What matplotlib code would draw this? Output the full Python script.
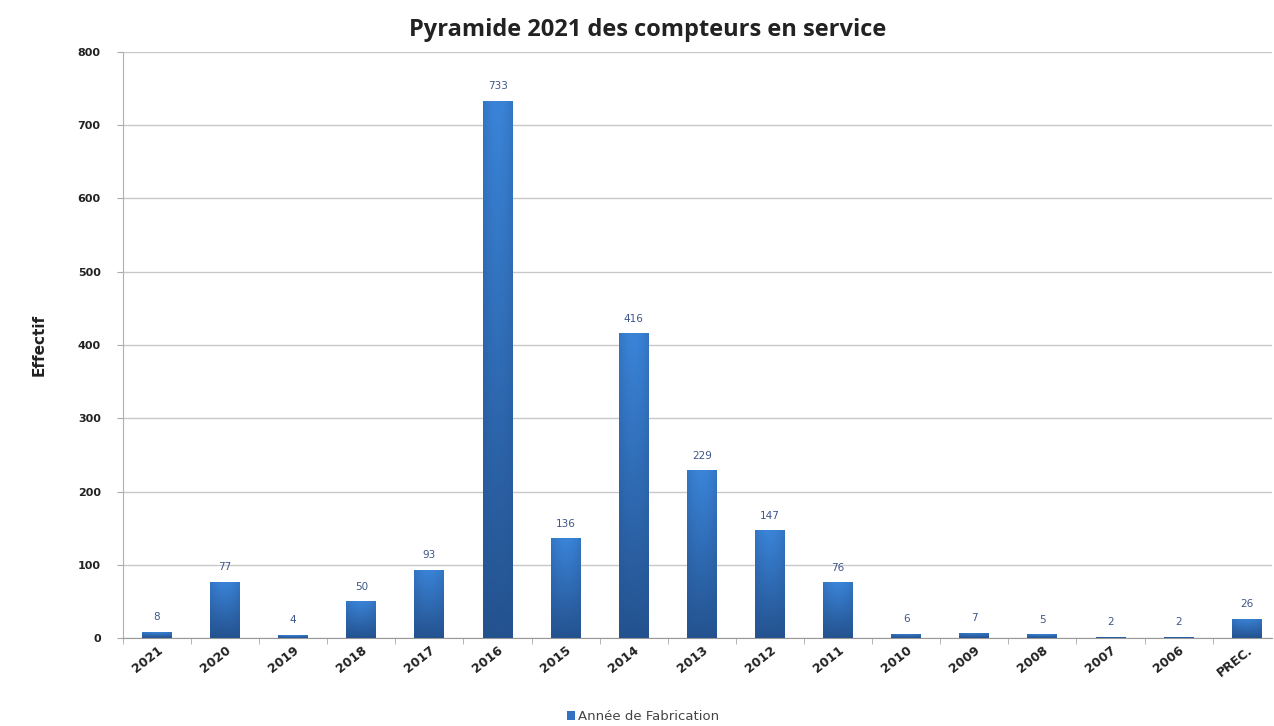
import matplotlib
matplotlib.use("Agg")
import matplotlib.pyplot as plt
import numpy as np
from matplotlib.colors import LinearSegmentedColormap
from matplotlib.patches import Patch

categories = ["2021", "2020", "2019", "2018", "2017", "2016", "2015", "2014", "2013",
              "2012", "2011", "2010", "2009", "2008", "2007", "2006", "PREC."]
values = [8, 77, 4, 50, 93, 733, 136, 416, 229, 147, 76, 6, 7, 5, 2, 2, 26]
yticks = [0, 100, 200, 300, 400, 500, 600, 700, 800]

fig = plt.figure(figsize=(12.74, 7.26), dpi=100)
ax = fig.add_axes([0.0965, 0.1212, 0.9019, 0.8072])

x = np.arange(len(categories))
bars = ax.bar(x, values, width=0.44, color="#3272c0", zorder=3)

# gradient fill for each bar
cmap = LinearSegmentedColormap.from_list("g", ["#24528f", "#3a84d8"])
grad = np.linspace(0, 1, 256).reshape(-1, 1)
hor = 1 - 0.3 * np.abs(np.linspace(-1, 1, 64)) ** 2
img = grad * hor[None, :]
for b in bars:
    b.set_facecolor("none")
    bx, by = b.get_x(), b.get_y()
    w, h = b.get_width(), b.get_height()
    im = ax.imshow(img, cmap=cmap, vmin=0, vmax=1, origin="lower", aspect="auto",
                   extent=[bx, bx + w, by, by + h], zorder=3)
    im.set_clip_path(b)

ax.set_xlim(-0.5, 16.37)
ax.set_ylim(0, 800)
ax.set_yticks(yticks)
ax.set_yticklabels([str(t) for t in yticks], fontsize=8, fontweight="bold", color="#222222")
ax.set_xticks(x)
ax.set_xticklabels(categories, rotation=38, ha="right", rotation_mode="anchor",
                   fontsize=9, fontweight="bold", color="#222222")
ax.tick_params(axis="x", length=0, pad=4)
ax.set_xticks(np.arange(-0.5, 16.5, 1), minor=True)
ax.tick_params(axis="x", which="minor", length=4, color="#aaaaaa", direction="out")
ax.tick_params(axis="y", length=4, color="#aaaaaa", pad=12)

ax.grid(axis="y", color="#c8c8c8", linewidth=1, zorder=0)
ax.set_axisbelow(True)
for s in ["top", "right"]:
    ax.spines[s].set_visible(False)
ax.spines["left"].set_color("#b0b0b0")
ax.spines["bottom"].set_color("#999999")
ax.set_xlim(-0.5, 16.37)

for xi, v in zip(x, values):
    ax.annotate(str(v), (xi, v), xytext=(0, 7), textcoords="offset points",
                ha="center", va="bottom", fontsize=7.5, color="#3d5688")

ax.set_ylabel("Effectif", fontsize=11, fontweight="bold", labelpad=22, color="#222222")
fig.text(0.508, 0.958, "Pyramide 2021 des compteurs en service", ha="center", va="center",
         fontsize=17, fontweight="bold", family="Open Sans", color="#222222")

handle = Patch(facecolor="#3272c0", edgecolor="none")
fig.legend([handle], ["Année de Fabrication"], loc="center", bbox_to_anchor=(0.505, 0.013),
           frameon=False, fontsize=9.5, handlelength=0.6, handleheight=0.7,
           handletextpad=0.25, labelcolor="#444444")

fig.savefig("out.png", dpi=100)
